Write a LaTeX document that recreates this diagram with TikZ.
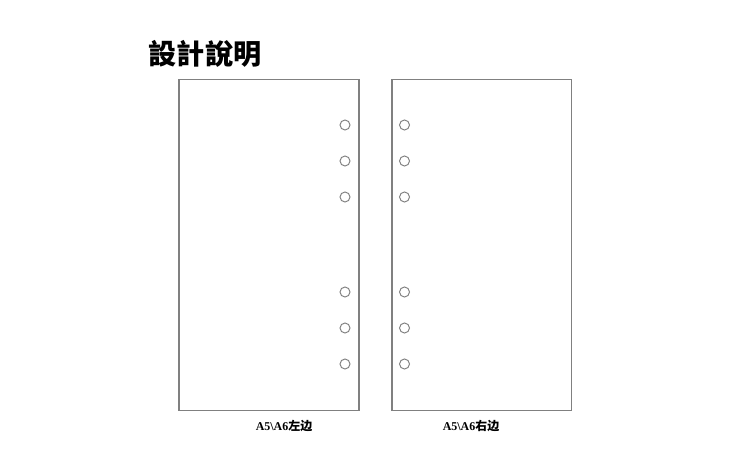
\documentclass[tikz,border=0pt]{standalone}
\usepackage{fontspec}
\usepackage{tikz}
\usepackage{xcolor}
\newfontfamily\cjktc{Noto Sans CJK TC}
\newfontfamily\cjksc{Noto Sans CJK SC}
\newfontfamily\labelserif{Liberation Serif}
\usetikzlibrary{
    calc,
    positioning
}
\definecolor{pagegray}{RGB}{128,128,128}
\tikzset{
    sheet/.style={draw=pagegray, line width=0.75pt},
    hole/.style={draw=pagegray, line width=0.55pt},
    sidelabel/.style={font=\labelserif\bfseries\fontsize{6.8}{7}\selectfont}
}

\begin{document}
\begin{tikzpicture}[x=0.02cm, y=-0.02cm]
    \useasboundingbox (0, 0) rectangle (750, 449);
    \node[font=\cjktc\bfseries\fontsize{16}{18}\selectfont] (title) at (205, 54) {設計說明};
    \begin{scope}[shift={(179, 79.5)}]
        \draw[sheet] (0, 0) rectangle (180, 331);
        \foreach \y in {45.5, 81.5, 117.5, 212.5, 248.5, 284.5}
            \draw[hole] (166, \y) circle (5);
    \end{scope}
    \begin{scope}[shift={(392, 79.5)}]
        \draw[sheet] (0, 0) rectangle (179.5, 331);
        \foreach \y in {45.5, 81.5, 117.5, 212.5, 248.5, 284.5}
            \draw[hole] (12.5, \y) circle (5);
    \end{scope}
    \node[sidelabel] (leftside) at (284, 426) {A5\textbackslash A6{\cjksc 左边}};
    \node[sidelabel] (rightside) at (471, 426) {A5\textbackslash A6{\cjksc 右边}};
\end{tikzpicture}
\end{document}
